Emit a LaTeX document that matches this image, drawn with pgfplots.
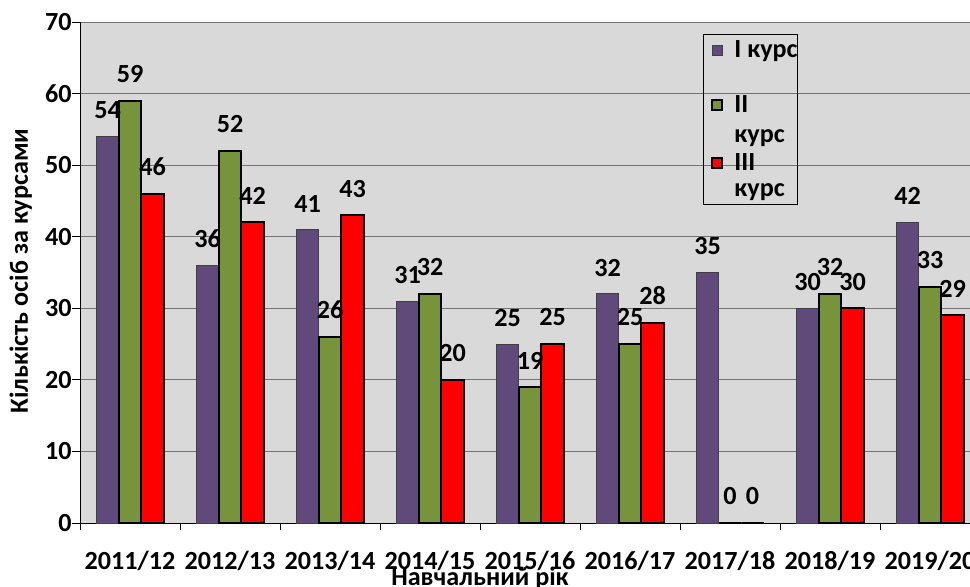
\documentclass[border=0pt]{standalone}
\usepackage{fontspec}
\setmainfont{Carlito}
\usepackage{pgfplots}
\pgfplotsset{compat=1.18}
\definecolor{cI}{HTML}{604A7B}
\definecolor{cII}{HTML}{77933C}
\definecolor{cIII}{HTML}{FF0000}
\definecolor{bg}{HTML}{D9D9D9}
\definecolor{gridc}{HTML}{737373}
\begin{document}
\fontsize{19.6}{23}\selectfont\bfseries
\begin{tikzpicture}
\path[use as bounding box, clip] (0,0) rectangle (727.5pt,439.5pt);
\begin{axis}[
  at={(60pt,47.25pt)}, anchor=south west,
  scale only axis, width=675pt, height=375.75pt,
  xmin=-0.5, xmax=8.5, ymin=0, ymax=70,
  ybar=0pt, bar width=16.875pt,
  axis background/.style={fill=bg},
  axis x line*=bottom, axis y line*=left,
  axis line style={black, line width=0.75pt},
  tick align=outside,
  /pgf/number format/assume math mode=true,
  ytick={0,10,...,70},
  ymajorgrids, grid style={gridc, line width=0.75pt},
  major tick length=6pt,
  y tick style={black, line width=0.75pt},
  xtick={0,...,8},
  xticklabels={2011/12,2012/13,2013/14,2014/15,2015/16,2016/17,2017/18,2018/19,2019/20},
  major x tick style={draw=none},
  minor xtick={-0.5,0.5,...,8.5},
  minor x tick style={black, line width=0.75pt},
  minor tick length=5.25pt,
  yticklabel style={anchor=east, inner sep=0pt},
  xticklabel style={anchor=base, inner sep=0pt, yshift=-28.75pt},
  xlabel={Навчальний рік},
  xlabel style={at={(axis description cs:0.4444,-0.1238)}, anchor=base, inner sep=0pt},
  ylabel={Кількість осіб за курсами},
  ylabel style={at={(axis description cs:-0.0578,0.503)}, anchor=base, inner sep=0pt},
  nodes near coords,
  every node near coord/.append style={anchor=south, inner sep=0pt, yshift=12.75pt, black},
  legend image code/.code={\draw[#1] (0pt,1.5pt) rectangle (7.5pt,9pt);},
  legend style={at={(0.6922,0.976)}, anchor=north west, draw=black, line width=0.75pt, fill=none,
    inner xsep=6pt, inner ysep=4.3pt, row sep=0pt, column sep=8.25pt,
    nodes={inner sep=0pt, text depth=, text height=}, cells={anchor=base west}},
]
\addplot[fill=cI, draw=black!75, line width=0.75pt] coordinates {(0,54) (1,36) (2,41) (3,31) (4,25) (5,32) (6,35) (7,30) (8,42)};
\addplot[fill=cII, draw=black, line width=1.5pt] coordinates {(0,59) (1,52) (2,26) (3,32) (4,19) (5,25) (6,0) (7,32) (8,33)};
\addplot[fill=cIII, draw=black, line width=1.5pt] coordinates {(0,46) (1,42) (2,43) (3,20) (4,25) (5,28) (6,0) (7,30) (8,29)};
\legend{\raisebox{0pt}[12.75pt][28.5pt]{I курс\kern-6pt}, \raisebox{0pt}[12.75pt][30.75pt]{\rlap{\raisebox{-22.5pt}{курс}}II}, \raisebox{0pt}[12.75pt][21.5pt]{\rlap{\raisebox{-20pt}{курс}}III}}
\end{axis}
\end{tikzpicture}
\end{document}
